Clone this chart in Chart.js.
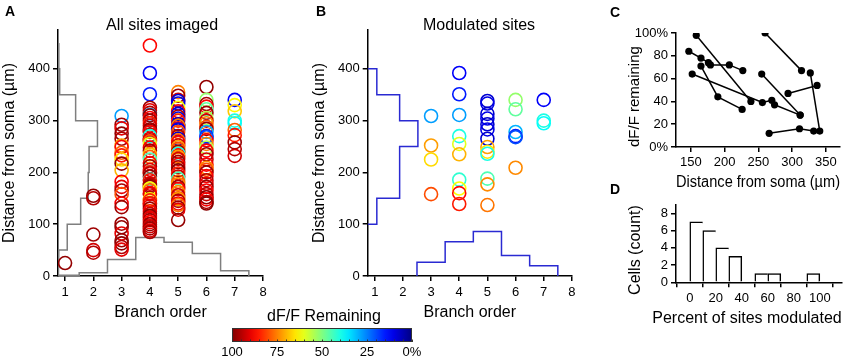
<!DOCTYPE html>
<html>
<head>
<meta charset="utf-8">
<script src="https://cdn.jsdelivr.net/npm/chart.js@4/dist/chart.umd.min.js"></script>
<style>
  body { margin: 0; background: #fff; width: 850px; height: 362px; overflow: hidden; position: relative;
         font-family: 'Liberation Sans', Arial, Helvetica, sans-serif; color: #000; }
  canvas { position: absolute; }
  .t { position: absolute; white-space: nowrap; line-height: 1; }
  .lab { font-weight: bold; font-size: 14px; }
  .ttl { font-size: 16px; transform: translate(-50%, -50%); }
  .rot { font-size: 16px; transform: translate(-50%, -50%) rotate(-90deg); }
</style>
</head>
<body>
<canvas id="chartA" width="290" height="330" style="left:0;top:0"></canvas>
<canvas id="chartB" width="290" height="330" style="left:290px;top:0"></canvas>
<canvas id="chartC" width="270" height="192" style="left:580px;top:0"></canvas>
<canvas id="chartD" width="270" height="140" style="left:580px;top:190px"></canvas>
<canvas id="colorbar" width="260" height="42" style="left:200px;top:320px"></canvas>

<div class="t lab" style="left:5px;top:4px">A</div>
<div class="t lab" style="left:316px;top:4px">B</div>
<div class="t lab" style="left:610px;top:5px">C</div>
<div class="t lab" style="left:610px;top:182px">D</div>
<div class="t ttl" style="left:162px;top:25px">All sites imaged</div>
<div class="t ttl" style="left:479px;top:25px">Modulated sites</div>
<div class="t ttl" style="left:324px;top:316px">dF/F Remaining</div>
<div class="t ttl" style="left:747px;top:318px">Percent of sites modulated</div>
<div class="t rot" style="left:635px;top:250px">Cells (count)</div>

<script>
// ---- data ----
const orders = [1, 2, 3, 4, 5, 6, 7];

// sites per branch order as [distance from soma (µm), dF/F remaining (%)]
const other1 = [[25, 98]];
const other2 = [[155, 98], [150, 95], [80, 97], [50, 92], [45, 95]];
const other3 = [[292, 97], [285, 90], [275, 98], [265, 96], [249, 88], [238, 78], [233, 85], [217, 98],
  [204, 70], [182, 88], [172, 90], [165, 96], [140, 88], [133, 97], [101, 97], [94, 98], [82, 90],
  [69, 97], [63, 99], [56, 95], [51, 90]];
const other4 = [[445, 87], [325, 97], [320, 90], [315, 95], [310, 99], [305, 88], [300, 97], [295, 85],
  [290, 92], [283, 98], [280, 97], [278, 88], [272, 95], [265, 90], [262, 93], [260, 80], [248, 88],
  [242, 96], [230, 78], [225, 45], [218, 88], [212, 97], [205, 90], [200, 85], [198, 95], [192, 99],
  [185, 86], [178, 92], [175, 95], [172, 98], [165, 76], [158, 90], [148, 62], [146, 84], [140, 95],
  [135, 90], [130, 97], [125, 88], [120, 93], [116, 99], [112, 90], [108, 96], [104, 87], [100, 98],
  [96, 92], [92, 97], [88, 90], [85, 96]];
const other5 = [[355, 75], [348, 97], [340, 92], [325, 62], [318, 88], [308, 95], [300, 85], [290, 97],
  [285, 88], [278, 80], [270, 95], [262, 76], [258, 88], [252, 92], [245, 80], [240, 97], [232, 86],
  [226, 92], [220, 97], [215, 88], [210, 95], [204, 99], [198, 85], [192, 93], [182, 78], [168, 88],
  [162, 74], [156, 92], [150, 78], [145, 95], [140, 88], [132, 97], [128, 90], [108, 98], [148, 72],
  [172, 96], [230, 72], [290, 75]];
const other6 = [[365, 98], [332, 96], [327, 88], [315, 97], [305, 55], [300, 92], [295, 75], [288, 80],
  [284, 97], [262, 88], [255, 75], [248, 55], [242, 88], [235, 97], [225, 92], [215, 88], [205, 80],
  [200, 97], [193, 88], [185, 95], [178, 90], [172, 97], [165, 88], [158, 93], [152, 98], [148, 88],
  [143, 96], [140, 99]];
const other7 = [[330, 63], [318, 68], [282, 78], [272, 85], [258, 97], [245, 95], [232, 92]];

// modulated sites
const mod3 = [[309, 28], [252, 72], [225, 66], [158, 80]];
const mod4 = [[392, 12], [351, 15], [311, 28], [270, 40], [255, 60], [235, 70], [186, 42], [169, 62],
  [160, 87], [139, 85]];
const mod5 = [[338, 8], [333, 10], [313, 8], [304, 10], [293, 8], [283, 10], [265, 8], [249, 72],
  [240, 65], [236, 40], [188, 45], [177, 74], [137, 76]];
const mod6 = [[340, 52], [322, 47], [278, 30], [270, 15], [268, 20], [209, 74]];
const mod7 = [[340, 12], [300, 40], [295, 38]];

// histograms: distance bins of 50 µm starting at 0, and counts per branch order
const distBinWidth = 50;
const allDistCounts = [1, 11, 27, 36, 37, 47, 21, 2, 1];
const modDistCounts = [0, 0, 2, 7, 7, 11, 7, 2];
const allOrderCounts = [1, 5, 25, 58, 51, 34, 8];
const modOrderCounts = [0, 0, 4, 10, 13, 6, 3];

// panel C: one trace per cell, [distance (µm), dF/F remaining (%)]
const cellTraces = [
  [[147, 84], [165, 78], [176, 74], [179, 72], [207, 72], [227, 67]],
  [[158, 98], [239, 40]],
  [[152, 64], [256, 39], [270, 41]],
  [[165, 71], [190, 44], [226, 33]],
  [[255, 64], [312, 28]],
  [[274, 37], [312, 28]],
  [[260, 100], [314, 67]],
  [[327, 65], [341, 14]],
  [[294, 47], [337, 54]],
  [[266, 12], [311, 16], [332, 14]]
];

// panel D
const pctBinCenters = [5, 15, 25, 35, 45, 55, 65, 75, 85, 95];
const cellCounts = [7, 6, 4, 3, 0, 1, 1, 0, 0, 1];

const colorbarTicks = [100, 75, 50, 25, 0];

// ---- helpers ----
Chart.defaults.font.family = "'Liberation Sans', Arial, Helvetica, sans-serif";
Chart.defaults.font.size = 13;
Chart.defaults.color = '#000';

function jet(v) {
  const c = t => Math.round(255 * Math.max(0, Math.min(1, t)));
  return 'rgb(' + c(1.5 - Math.abs(4 * v - 3)) + ',' + c(1.5 - Math.abs(4 * v - 2)) + ',' + c(1.5 - Math.abs(4 * v - 1)) + ')';
}

function toPoints(groups) {
  const pts = [];
  groups.forEach((g, i) => g.forEach(([d, r]) => pts.push({x: orders[i], y: d, rem: r})));
  return pts;
}

// step outline of a histogram drawn sideways from the y axis
function sideHist(counts, x0, k) {
  let first = 0, last = counts.length - 1;
  while (counts[first] === 0) first++;
  while (counts[last] === 0) last--;
  const pts = [{x: x0, y: (last + 1) * distBinWidth}];
  for (let i = last; i >= first; i--) {
    const x = x0 + counts[i] * k;
    pts.push({x: x, y: (i + 1) * distBinWidth}, {x: x, y: i * distBinWidth});
  }
  pts.push({x: x0, y: first * distBinWidth});
  return pts;
}

// step outline of a histogram standing on the x axis
function baseHist(counts, k) {
  let first = 0, last = counts.length - 1;
  while (counts[first] === 0) first++;
  while (counts[last] === 0) last--;
  const pts = [{x: orders[first] - 0.5, y: 0}];
  for (let i = first; i <= last; i++) {
    pts.push({x: orders[i] - 0.5, y: counts[i] * k}, {x: orders[i] + 0.5, y: counts[i] * k});
  }
  pts.push({x: orders[last] + 0.5, y: 0});
  return pts;
}

function axisOpts(o) {
  return {
    type: 'linear', min: o.min, max: o.max, reverse: !!o.reverse,
    border: {display: o.border !== false, color: '#000', width: 1.5},
    grid: {drawOnChartArea: false, drawTicks: o.tick !== 0, tickLength: o.tick || 5, color: '#000', lineWidth: 1.5},
    ticks: {stepSize: o.step, includeBounds: false, padding: o.pad, autoSkip: false, maxRotation: 0,
            callback: o.fmt || (v => v)},
    title: o.title ? {display: true, text: o.title, align: o.talign || 'center', font: {size: o.tsize || 16},
                      padding: {top: 0, bottom: o.tpad || 0}} : {display: false},
    afterFit: s => { if (s.isHorizontal()) s.height = o.size; else s.width = o.size; }
  };
}

const base = {
  responsive: false, animation: false, events: [],
  plugins: {legend: {display: false}, tooltip: {enabled: false}}
};

function siteChart(id, sites, sideCounts, sideK, orderCounts, orderK, histColor, padLeft, yWidth, padRight) {
  new Chart(document.getElementById(id), {
    type: 'scatter',
    data: {datasets: [
      {data: sites, pointRadius: 6.5, pointBorderWidth: 1.6, pointBackgroundColor: 'rgba(0,0,0,0)',
       pointBorderColor: c => c.raw ? jet(c.raw.rem / 100) : '#000'},
      {data: sideHist(sideCounts, 0.75, sideK), showLine: true, pointRadius: 0, borderColor: histColor, borderWidth: 1.5},
      {data: baseHist(orderCounts, orderK), showLine: true, pointRadius: 0, borderColor: histColor, borderWidth: 1.5}
    ]},
    options: Object.assign({}, base, {
      layout: {padding: {left: padLeft, right: padRight, top: 30, bottom: 0}},
      scales: {
        x: axisOpts({min: 0.75, max: 8, step: 1, pad: 4, size: 54, title: 'Branch order', tpad: 8}),
        y: axisOpts({min: 0, max: 475, step: 100, pad: 3, size: yWidth, title: 'Distance from soma (µm)'})
      }
    })
  });
}

const modGroups = [[], [], mod3, mod4, mod5, mod6, mod7];
const modSites = toPoints(modGroups);
// all sites, drawn from the farthest to the nearest so overlapping rings mix
const allSites = modSites.concat(toPoints([other1, other2, other3, other4, other5, other6, other7]))
  .sort((p, q) => q.y - p.y);

siteChart('chartA', allSites, allDistCounts, 0.0297, allOrderCounts, 1.28, '#7f7f7f', 0, 58, 27);
siteChart('chartB', modSites, modDistCounts, 0.162, modOrderCounts, 6.6, '#2a2ad2', 20, 57.7, 7.3);

// panel C
new Chart(document.getElementById('chartC'), {
  type: 'scatter',
  data: {datasets: cellTraces.map(tr => ({
    data: tr.map(([d, r]) => ({x: d, y: r})),
    showLine: true, borderColor: '#000', borderWidth: 1.5,
    pointRadius: 3.6, pointBackgroundColor: '#000', pointBorderColor: '#000', pointBorderWidth: 0
  }))},
  options: Object.assign({}, base, {
    layout: {padding: {left: 46, right: 10, top: 33, bottom: 0}},
    scales: {
      x: axisOpts({min: 128, max: 371, step: 50, pad: 3, size: 45, title: 'Distance from soma (µm)', tpad: 0}),
      y: axisOpts({min: 0, max: 100, step: 20, pad: 3, size: 50, title: 'dF/F remaining', talign: 'start', tsize: 15,
                   fmt: v => v === 100 ? '100%' : v === 0 ? '0%' : v})
    }
  })
});

// panel D
new Chart(document.getElementById('chartD'), {
  type: 'bar',
  data: {datasets: [{
    data: pctBinCenters.map((x, i) => ({x: x, y: cellCounts[i]})),
    backgroundColor: '#fff', borderColor: '#000',
    borderWidth: c => ({top: 1.5, left: 1.5, bottom: 0,
      right: (c.dataIndex === cellCounts.length - 1 || cellCounts[c.dataIndex + 1] === 0) ? 1.5 : 0}),
    barPercentage: 1, categoryPercentage: 1
  }]},
  options: Object.assign({}, base, {
    layout: {padding: {left: 46, right: 8.6, top: 14.7, bottom: 0}},
    scales: {
      x: axisOpts({min: 0, max: 106, step: 20, pad: 3, size: 47.7}),
      y: axisOpts({min: 0, max: 9, step: 2, pad: 3, size: 50})
    }
  })
});

// colour bar
const colorbarFill = {
  id: 'colorbarFill',
  beforeDatasetsDraw(chart) {
    const {ctx, chartArea: a, scales: {x}} = chart;
    const g = ctx.createLinearGradient(a.left, 0, a.right, 0);
    for (let v = 0; v <= 100; v += 5) {
      g.addColorStop((x.getPixelForValue(v) - a.left) / (a.right - a.left), jet(v / 100));
    }
    ctx.save();
    ctx.fillStyle = g;
    ctx.fillRect(a.left, a.top, a.right - a.left, a.bottom - a.top);
    ctx.strokeStyle = '#333';
    ctx.lineWidth = 1;
    for (let v = 0; v <= 100; v += 5) {
      const px = Math.round(x.getPixelForValue(v)) + 0.5;
      ctx.beginPath(); ctx.moveTo(px, a.bottom); ctx.lineTo(px, a.bottom - 2.5); ctx.stroke();
    }
    ctx.strokeRect(a.left + 0.5, a.top + 0.5, a.right - a.left - 1, a.bottom - a.top - 1);
    ctx.restore();
  }
};

new Chart(document.getElementById('colorbar'), {
  type: 'scatter',
  data: {datasets: []},
  plugins: [colorbarFill],
  options: Object.assign({}, base, {
    layout: {padding: {left: 32, right: 48, top: 8, bottom: 0}},
    scales: {
      x: axisOpts({min: 0, max: 100, step: 25, reverse: true, pad: 3, size: 20, tick: 0, border: false,
                   fmt: v => colorbarTicks.includes(v) ? (v === 0 ? '0%' : v) : ''}),
      y: {display: false, min: 0, max: 1}
    }
  })
});
</script>
</body>
</html>
